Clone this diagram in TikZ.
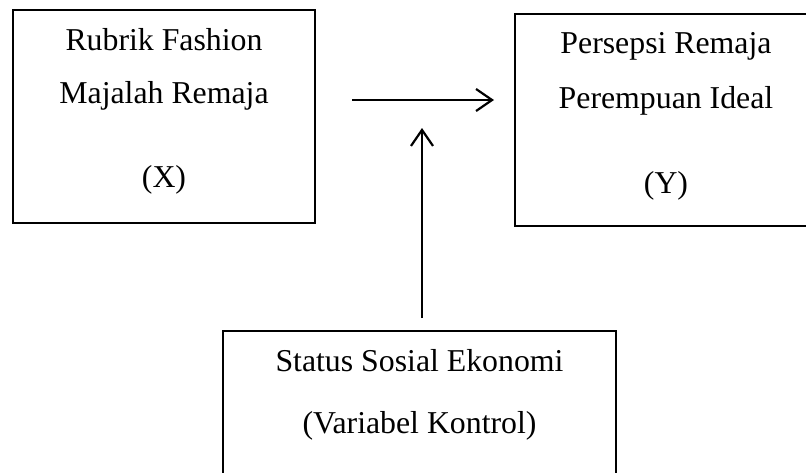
\documentclass[tikz,border=0pt]{standalone}
\usepackage{fontspec}
\setmainfont{Liberation Serif}
\usetikzlibrary{arrows.meta}
\tikzset{
  varbox/.style={draw, line width=1.3pt, rectangle, inner sep=0pt, outer sep=0pt},
  lbl/.style={anchor=base, inner sep=0pt, font=\fontsize{31.8}{36}\selectfont},
  arr/.style={line width=2.2pt, -{Straight Barb[length=16pt,width=22pt,line width=2.2pt]}}
}
\begin{document}
\begin{tikzpicture}[x=1pt,y=-1pt]
\useasboundingbox (0,0) rectangle (806,472);
\clip (0,0) rectangle (806,472);
\node[varbox, minimum width=302pt, minimum height=213pt] (boxx) at (164,116.5) {};
\node[varbox, minimum width=320pt, minimum height=212pt] (boxy) at (675,120) {};
\node[varbox, minimum width=393pt, minimum height=150pt] (boxk) at (419.5,406) {};
\node[lbl] (x1) at (164,50) {Rubrik Fashion};
\node[lbl] (x2) at (164,103) {Majalah Remaja};
\node[lbl] (x3) at (164,187) {(X)};
\node[lbl] (y1) at (666,53) {Persepsi Remaja};
\node[lbl] (y2) at (666,108) {Perempuan Ideal};
\node[lbl] (y3) at (666,193) {(Y)};
\node[lbl] (k1) at (419.5,371) {Status Sosial Ekonomi};
\node[lbl] (k2) at (419.5,433) {(Variabel Kontrol)};
\coordinate (hs) at (352,100);
\coordinate (he) at (494,100);
\coordinate (vs) at (422,318);
\coordinate (ve) at (422,128);
\draw[arr] (hs) -- (he);
\draw[arr] (vs) -- (ve);
\end{tikzpicture}
\end{document}
